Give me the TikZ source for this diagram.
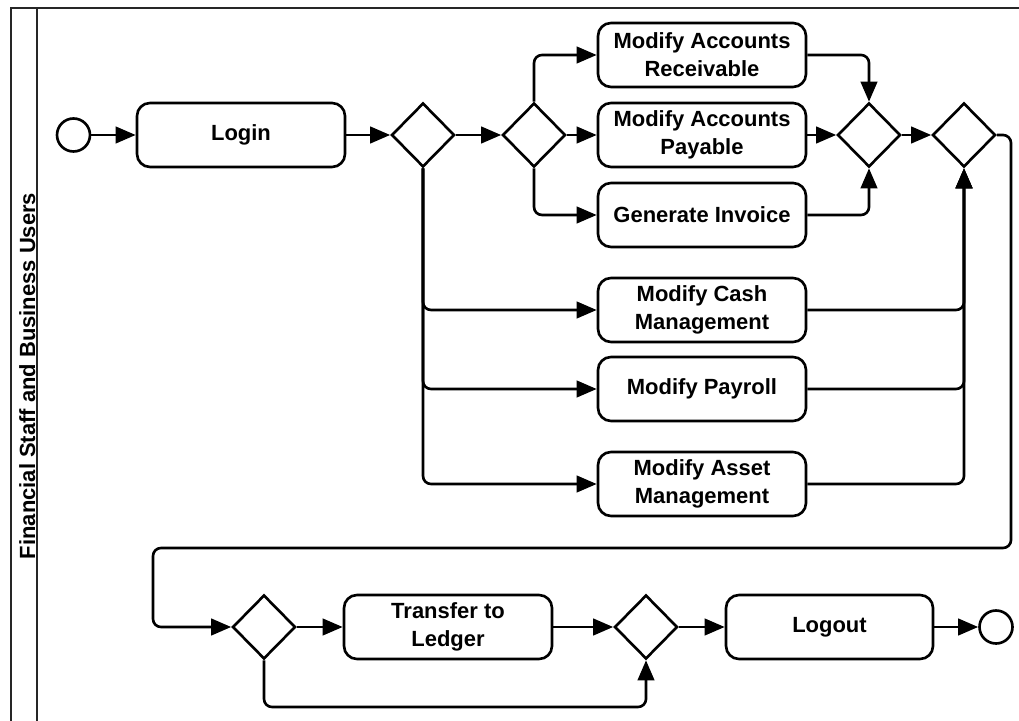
\documentclass[tikz,border=0pt]{standalone}
\usepackage{fontspec}
\setmainfont{Liberation Sans}
\usetikzlibrary{shapes.geometric, arrows.meta}

\tikzset{
	task/.style={draw, rounded corners=0.26cm, line width=1.5pt, minimum width=4.16cm, minimum height=1.28cm, align=center, font=\fontsize{12.5}{15.8}\selectfont\bfseries},
	gate/.style={draw, diamond, line width=1.5pt, minimum width=1.26cm, minimum height=1.28cm, inner sep=0pt},
	event/.style={draw, circle, line width=1.5pt, minimum size=0.66cm, inner sep=0pt},
	flow/.style={line width=1.5pt, rounded corners=0.16cm, -{Triangle[length=0.4cm, width=0.33cm]}},
	link/.style={line width=1.5pt, rounded corners=0.16cm}
}

\begin{document}
\begin{tikzpicture}
		\useasboundingbox (0, 0) rectangle (20.38, 14.4);
		\draw[line width=1.3pt, black!85] (0.22, -0.2) -- (0.22, 14.24) -- (20.7, 14.24);
		\draw[line width=1.3pt, black!85] (0.74, -0.2) -- (0.74, 14.24);
		\node[rotate=90, anchor=base, font=\fontsize{12.5}{15.5}\selectfont\bfseries] (lane) at (0.70, 6.88) {Financial Staff and Business Users};

		\node[event] (start) at (1.47, 11.7) {};
		\node[task] (login) at (4.82, 11.7) {Login};
		\node[gate] (split) at (8.46, 11.7) {};
		\node[gate] (acct) at (10.68, 11.7) {};
		\node[task] (recv) at (14.04, 13.3) {Modify Accounts\\Receivable};
		\node[task] (paya) at (14.04, 11.7) {Modify Accounts\\Payable};
		\node[task] (invoice) at (14.04, 10.1) {Generate Invoice};
		\node[task] (cash) at (14.04, 8.2) {Modify Cash\\Management};
		\node[task] (payroll) at (14.04, 6.62) {Modify Payroll};
		\node[task] (asset) at (14.04, 4.72) {Modify Asset\\Management};
		\node[gate] (acctjoin) at (17.38, 11.7) {};
		\node[gate] (join) at (19.28, 11.7) {};

		\node[gate] (check) at (5.28, 1.86) {};
		\node[task] (ledger) at (8.96, 1.86) {Transfer to\\Ledger};
		\node[gate] (merge) at (12.92, 1.86) {};
		\node[task, minimum width=4.14cm] (logout) at (16.59, 1.86) {Logout};
		\node[event] (end) at (19.92, 1.86) {};

		\coordinate (turnR) at (20.22, 3.44);
		\coordinate (turnL) at (3.06, 3.44);
		\coordinate (loop) at (9, 0.26);

		\draw[flow] (start) -- (login);
		\draw[flow] (login) -- (split);
		\draw[flow] (split) -- (acct);
		\draw[flow] (acct.north) |- (recv.west);
		\draw[flow] (acct.east) -- (paya.west);
		\draw[flow] (acct.south) |- (invoice.west);
		\draw[flow] (recv.east) -| (acctjoin.north);
		\draw[flow] (paya.east) -- (acctjoin.west);
		\draw[flow] (invoice.east) -| (acctjoin.south);
		\draw[flow] (acctjoin.east) -- (join.west);
		\foreach \t in {cash, payroll, asset} {
			\draw[flow] (split.south) |- (\t.west);
			\draw[flow] (\t.east) -| (join.south);
		}
		\draw[flow] (join.east) -| (turnR) -- (turnL) |- (check.west);
		\draw[flow] (check) -- (ledger);
		\draw[flow] (ledger) -- (merge);
		\draw[flow] (check.south) |- (loop) -| (merge.south);
		\draw[flow] (merge) -- (logout);
		\draw[flow] (logout) -- (end);
	\end{tikzpicture}
\end{document}
